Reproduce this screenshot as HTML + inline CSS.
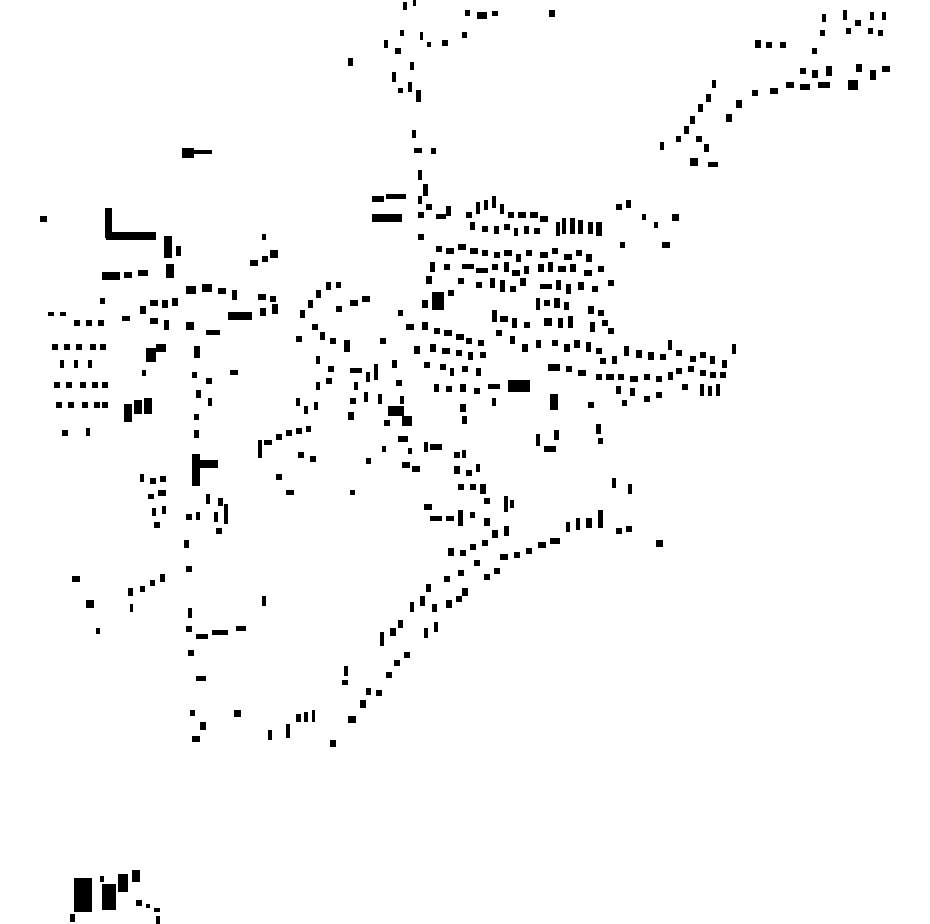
<!DOCTYPE html>
<html><head><meta charset="utf-8"><style>html,body{margin:0;padding:0;background:#fff}svg{display:block}</style></head>
<body>
<svg width="930" height="924" viewBox="0 0 930 924" xmlns="http://www.w3.org/2000/svg">
<g fill="#000">
<!-- top north road -->
<rect x="403" y="2" width="4" height="8"/><rect x="413" y="0" width="3" height="6"/><rect x="465" y="10" width="5" height="6"/><rect x="477" y="12" width="10" height="7"/><rect x="492" y="11" width="6" height="5"/><rect x="549" y="10" width="6" height="7"/>
<rect x="384" y="40" width="4" height="8"/><rect x="395" y="48" width="6" height="6"/><rect x="400" y="30" width="4" height="6"/><rect x="420" y="32" width="3" height="8"/><rect x="427" y="42" width="4" height="5"/><rect x="442" y="40" width="6" height="6"/><rect x="462" y="32" width="5" height="6"/>
<rect x="348" y="58" width="5" height="8"/><rect x="410" y="62" width="4" height="8"/><rect x="392" y="72" width="4" height="10"/><rect x="398" y="88" width="5" height="5"/><rect x="408" y="82" width="4" height="10"/><rect x="416" y="90" width="5" height="12"/>
<rect x="412" y="130" width="4" height="8"/><rect x="414" y="148" width="8" height="5"/><rect x="431" y="148" width="5" height="6"/><rect x="418" y="170" width="4" height="10"/><rect x="423" y="184" width="5" height="12"/>
<rect x="182" y="148" width="12" height="10"/><rect x="194" y="150" width="18" height="4"/>
<!-- NE branch -->
<rect x="755" y="40" width="6" height="8"/><rect x="766" y="42" width="6" height="6"/><rect x="780" y="42" width="6" height="6"/><rect x="822" y="14" width="4" height="8"/><rect x="843" y="10" width="4" height="10"/><rect x="855" y="20" width="6" height="6"/><rect x="870" y="12" width="4" height="8"/><rect x="882" y="12" width="4" height="8"/><rect x="820" y="30" width="5" height="6"/><rect x="846" y="28" width="5" height="6"/><rect x="868" y="28" width="5" height="6"/><rect x="878" y="30" width="5" height="6"/>
<rect x="812" y="48" width="5" height="6"/><rect x="800" y="68" width="6" height="6"/><rect x="812" y="70" width="6" height="8"/><rect x="826" y="66" width="6" height="10"/><rect x="856" y="64" width="6" height="8"/><rect x="870" y="70" width="6" height="10"/><rect x="882" y="66" width="8" height="6"/><rect x="848" y="80" width="10" height="10"/><rect x="786" y="82" width="8" height="6"/><rect x="800" y="84" width="10" height="6"/><rect x="818" y="82" width="12" height="6"/><rect x="770" y="88" width="8" height="6"/><rect x="752" y="90" width="6" height="6"/><rect x="736" y="100" width="6" height="8"/><rect x="726" y="114" width="6" height="8"/><rect x="712" y="80" width="4" height="8"/><rect x="706" y="94" width="5" height="8"/><rect x="698" y="104" width="5" height="8"/><rect x="690" y="116" width="5" height="8"/><rect x="684" y="126" width="5" height="8"/><rect x="676" y="136" width="5" height="6"/><rect x="660" y="142" width="4" height="8"/><rect x="696" y="136" width="6" height="6"/><rect x="704" y="144" width="5" height="8"/><rect x="690" y="158" width="8" height="8"/><rect x="708" y="162" width="10" height="5"/>
<!-- NW industrial -->
<rect x="40" y="216" width="7" height="6"/><rect x="105" y="208" width="7" height="30"/><rect x="106" y="232" width="50" height="8"/><rect x="164" y="236" width="8" height="22"/><rect x="176" y="246" width="5" height="10"/><rect x="102" y="272" width="18" height="8"/><rect x="124" y="272" width="8" height="6"/><rect x="138" y="270" width="10" height="6"/><rect x="166" y="264" width="8" height="14"/><rect x="250" y="260" width="8" height="6"/><rect x="262" y="256" width="6" height="6"/><rect x="270" y="250" width="8" height="8"/><rect x="262" y="234" width="4" height="6"/>
<rect x="186" y="286" width="10" height="8"/><rect x="202" y="284" width="10" height="8"/><rect x="218" y="288" width="8" height="6"/><rect x="232" y="290" width="5" height="10"/><rect x="228" y="312" width="24" height="8"/><rect x="258" y="294" width="8" height="6"/><rect x="270" y="296" width="6" height="6"/><rect x="260" y="308" width="6" height="8"/><rect x="272" y="304" width="6" height="10"/>
<rect x="100" y="298" width="5" height="6"/><rect x="140" y="306" width="6" height="8"/><rect x="150" y="300" width="8" height="6"/><rect x="162" y="300" width="6" height="8"/><rect x="172" y="298" width="6" height="8"/><rect x="122" y="316" width="8" height="5"/><rect x="150" y="318" width="8" height="6"/><rect x="164" y="320" width="5" height="10"/><rect x="186" y="322" width="8" height="8"/><rect x="206" y="330" width="14" height="5"/>
<!-- west grid -->
<rect x="48" y="312" width="6" height="4"/><rect x="60" y="312" width="6" height="4"/><rect x="74" y="320" width="6" height="6"/><rect x="86" y="320" width="6" height="6"/><rect x="98" y="320" width="6" height="6"/><rect x="52" y="344" width="6" height="6"/><rect x="64" y="344" width="6" height="6"/><rect x="76" y="344" width="6" height="6"/><rect x="90" y="344" width="6" height="6"/><rect x="100" y="344" width="6" height="6"/><rect x="60" y="360" width="4" height="8"/><rect x="74" y="360" width="4" height="8"/><rect x="88" y="360" width="4" height="8"/><rect x="54" y="382" width="6" height="6"/><rect x="66" y="382" width="6" height="6"/><rect x="80" y="382" width="6" height="6"/><rect x="92" y="382" width="6" height="6"/><rect x="102" y="382" width="6" height="6"/><rect x="56" y="402" width="6" height="6"/><rect x="68" y="402" width="6" height="6"/><rect x="82" y="402" width="6" height="6"/><rect x="94" y="402" width="6" height="6"/><rect x="102" y="402" width="6" height="6"/><rect x="62" y="430" width="6" height="6"/><rect x="86" y="428" width="4" height="8"/>
<rect x="146" y="348" width="10" height="14"/><rect x="156" y="344" width="10" height="8"/><rect x="124" y="404" width="8" height="18"/><rect x="134" y="400" width="8" height="14"/><rect x="144" y="398" width="8" height="16"/><rect x="142" y="370" width="4" height="6"/>
<!-- vertical road W -->
<rect x="194" y="346" width="6" height="12"/><rect x="192" y="372" width="5" height="6"/><rect x="196" y="390" width="5" height="8"/><rect x="194" y="414" width="5" height="6"/><rect x="194" y="430" width="5" height="8"/><rect x="192" y="454" width="8" height="32"/><rect x="200" y="460" width="18" height="8"/><rect x="206" y="378" width="6" height="6"/><rect x="208" y="398" width="4" height="8"/><rect x="230" y="370" width="8" height="5"/>
<rect x="140" y="474" width="4" height="8"/><rect x="150" y="478" width="6" height="6"/><rect x="160" y="476" width="6" height="6"/><rect x="148" y="494" width="6" height="5"/><rect x="158" y="490" width="8" height="6"/><rect x="152" y="508" width="4" height="8"/><rect x="162" y="506" width="4" height="8"/><rect x="154" y="522" width="6" height="6"/><rect x="186" y="514" width="6" height="6"/><rect x="196" y="512" width="4" height="8"/><rect x="206" y="494" width="4" height="10"/><rect x="218" y="498" width="5" height="8"/><rect x="214" y="512" width="4" height="10"/><rect x="224" y="504" width="4" height="20"/><rect x="216" y="528" width="6" height="6"/>
<rect x="184" y="540" width="5" height="8"/><rect x="186" y="566" width="6" height="6"/><rect x="72" y="576" width="8" height="6"/><rect x="86" y="600" width="8" height="8"/><rect x="96" y="628" width="4" height="6"/><rect x="128" y="588" width="5" height="8"/><rect x="140" y="586" width="5" height="6"/><rect x="150" y="580" width="5" height="6"/><rect x="160" y="574" width="5" height="8"/><rect x="130" y="604" width="3" height="8"/>
<rect x="188" y="608" width="4" height="10"/><rect x="186" y="626" width="6" height="6"/><rect x="196" y="634" width="12" height="5"/><rect x="212" y="630" width="16" height="5"/><rect x="236" y="626" width="10" height="5"/><rect x="262" y="596" width="4" height="10"/><rect x="188" y="650" width="6" height="6"/><rect x="196" y="676" width="10" height="5"/><rect x="190" y="710" width="5" height="6"/><rect x="200" y="722" width="6" height="8"/><rect x="234" y="710" width="7" height="7"/><rect x="192" y="736" width="8" height="6"/>
<!-- south road -->
<rect x="268" y="730" width="4" height="10"/><rect x="286" y="724" width="4" height="14"/><rect x="296" y="714" width="5" height="8"/><rect x="304" y="712" width="4" height="10"/><rect x="312" y="710" width="3" height="12"/><rect x="330" y="740" width="6" height="7"/><rect x="348" y="716" width="8" height="7"/><rect x="360" y="700" width="6" height="8"/><rect x="366" y="688" width="5" height="7"/><rect x="376" y="690" width="6" height="6"/><rect x="344" y="666" width="4" height="10"/><rect x="342" y="680" width="6" height="5"/><rect x="386" y="672" width="6" height="6"/><rect x="394" y="660" width="6" height="6"/><rect x="404" y="652" width="6" height="6"/><rect x="380" y="632" width="4" height="14"/><rect x="390" y="628" width="6" height="8"/><rect x="398" y="620" width="5" height="8"/><rect x="410" y="602" width="4" height="10"/><rect x="420" y="596" width="5" height="10"/><rect x="426" y="584" width="5" height="8"/><rect x="432" y="604" width="5" height="8"/><rect x="424" y="628" width="4" height="10"/><rect x="434" y="622" width="4" height="10"/><rect x="446" y="600" width="6" height="8"/><rect x="456" y="596" width="6" height="6"/><rect x="462" y="588" width="6" height="8"/><rect x="444" y="576" width="6" height="6"/><rect x="458" y="570" width="6" height="6"/><rect x="474" y="560" width="6" height="6"/><rect x="484" y="574" width="6" height="6"/><rect x="494" y="568" width="6" height="6"/><rect x="448" y="548" width="6" height="8"/><rect x="460" y="550" width="6" height="6"/><rect x="470" y="544" width="6" height="6"/><rect x="482" y="540" width="6" height="6"/><rect x="492" y="530" width="6" height="8"/><rect x="504" y="526" width="5" height="10"/><rect x="500" y="554" width="8" height="6"/><rect x="514" y="552" width="6" height="6"/><rect x="526" y="548" width="6" height="6"/><rect x="538" y="542" width="8" height="6"/><rect x="550" y="538" width="10" height="6"/><rect x="566" y="522" width="4" height="10"/><rect x="576" y="518" width="4" height="12"/><rect x="586" y="518" width="6" height="10"/><rect x="598" y="510" width="5" height="18"/><rect x="616" y="528" width="6" height="6"/><rect x="626" y="526" width="6" height="6"/><rect x="656" y="540" width="7" height="7"/><rect x="612" y="478" width="4" height="10"/><rect x="628" y="484" width="4" height="10"/>
<!-- central SE cluster -->
<rect x="424" y="504" width="8" height="6"/><rect x="430" y="516" width="12" height="5"/><rect x="446" y="516" width="8" height="5"/><rect x="458" y="510" width="5" height="16"/><rect x="470" y="512" width="5" height="6"/><rect x="484" y="518" width="6" height="8"/><rect x="504" y="496" width="4" height="16"/><rect x="510" y="500" width="4" height="8"/><rect x="484" y="498" width="6" height="6"/><rect x="454" y="452" width="6" height="6"/><rect x="462" y="450" width="4" height="8"/><rect x="454" y="466" width="6" height="8"/><rect x="466" y="470" width="6" height="6"/><rect x="476" y="464" width="4" height="8"/><rect x="458" y="484" width="6" height="6"/><rect x="470" y="484" width="6" height="6"/><rect x="480" y="484" width="6" height="10"/>
<rect x="402" y="462" width="8" height="6"/><rect x="412" y="466" width="8" height="6"/><rect x="424" y="442" width="4" height="10"/><rect x="430" y="444" width="12" height="6"/><rect x="408" y="448" width="4" height="6"/><rect x="398" y="436" width="10" height="6"/><rect x="382" y="446" width="4" height="6"/><rect x="366" y="458" width="5" height="6"/><rect x="350" y="490" width="5" height="5"/>
<!-- mid-west houses -->
<rect x="258" y="440" width="4" height="18"/><rect x="264" y="440" width="8" height="5"/><rect x="276" y="434" width="6" height="6"/><rect x="286" y="430" width="6" height="6"/><rect x="296" y="428" width="6" height="6"/><rect x="306" y="426" width="5" height="6"/><rect x="298" y="452" width="6" height="6"/><rect x="310" y="456" width="6" height="6"/><rect x="276" y="474" width="6" height="6"/><rect x="286" y="490" width="8" height="5"/><rect x="296" y="398" width="4" height="8"/><rect x="304" y="406" width="4" height="8"/><rect x="314" y="402" width="4" height="8"/>
<rect x="300" y="310" width="5" height="8"/><rect x="308" y="300" width="5" height="8"/><rect x="316" y="290" width="5" height="8"/><rect x="326" y="282" width="5" height="8"/><rect x="336" y="282" width="5" height="6"/><rect x="296" y="336" width="6" height="6"/><rect x="312" y="324" width="6" height="6"/><rect x="320" y="332" width="5" height="8"/><rect x="330" y="338" width="6" height="6"/><rect x="344" y="340" width="6" height="12"/><rect x="336" y="306" width="6" height="6"/><rect x="350" y="300" width="8" height="6"/><rect x="362" y="296" width="8" height="6"/><rect x="316" y="356" width="4" height="8"/><rect x="328" y="366" width="6" height="6"/><rect x="326" y="378" width="6" height="6"/><rect x="316" y="382" width="4" height="8"/><rect x="350" y="368" width="12" height="5"/><rect x="354" y="382" width="4" height="8"/><rect x="350" y="398" width="6" height="6"/><rect x="348" y="412" width="6" height="8"/><rect x="366" y="372" width="4" height="10"/><rect x="374" y="364" width="4" height="16"/><rect x="364" y="392" width="4" height="10"/><rect x="378" y="394" width="4" height="10"/><rect x="380" y="338" width="6" height="6"/><rect x="392" y="360" width="5" height="8"/><rect x="396" y="380" width="6" height="6"/><rect x="388" y="406" width="16" height="10"/><rect x="402" y="416" width="10" height="10"/><rect x="384" y="420" width="6" height="6"/><rect x="400" y="396" width="4" height="8"/>
<!-- central core -->
<rect x="372" y="196" width="12" height="6"/><rect x="386" y="194" width="20" height="5"/><rect x="372" y="214" width="30" height="8"/><rect x="418" y="196" width="4" height="8"/><rect x="418" y="212" width="6" height="6"/><rect x="426" y="204" width="6" height="6"/><rect x="436" y="214" width="10" height="5"/><rect x="446" y="206" width="5" height="10"/><rect x="418" y="234" width="6" height="6"/><rect x="466" y="212" width="6" height="6"/><rect x="476" y="202" width="4" height="12"/><rect x="484" y="200" width="4" height="10"/><rect x="492" y="196" width="4" height="12"/><rect x="500" y="204" width="4" height="10"/><rect x="508" y="212" width="6" height="6"/><rect x="518" y="212" width="8" height="6"/><rect x="530" y="212" width="8" height="6"/><rect x="540" y="216" width="8" height="6"/><rect x="470" y="222" width="5" height="8"/><rect x="482" y="226" width="6" height="6"/><rect x="494" y="226" width="5" height="8"/><rect x="504" y="224" width="6" height="6"/><rect x="514" y="228" width="4" height="8"/><rect x="524" y="226" width="5" height="8"/><rect x="534" y="228" width="6" height="6"/><rect x="556" y="222" width="4" height="14"/><rect x="562" y="218" width="4" height="16"/><rect x="570" y="218" width="5" height="16"/><rect x="578" y="220" width="5" height="14"/><rect x="588" y="222" width="5" height="12"/><rect x="596" y="222" width="6" height="14"/><rect x="616" y="204" width="6" height="6"/><rect x="626" y="200" width="5" height="8"/><rect x="642" y="214" width="4" height="6"/><rect x="654" y="222" width="4" height="6"/><rect x="672" y="214" width="7" height="7"/><rect x="662" y="242" width="8" height="6"/><rect x="620" y="242" width="5" height="6"/>
<rect x="436" y="246" width="6" height="6"/><rect x="446" y="248" width="8" height="6"/><rect x="458" y="244" width="8" height="6"/><rect x="470" y="248" width="8" height="6"/><rect x="482" y="250" width="6" height="6"/><rect x="494" y="252" width="6" height="6"/><rect x="504" y="250" width="8" height="6"/><rect x="516" y="254" width="5" height="8"/><rect x="526" y="250" width="6" height="6"/><rect x="540" y="252" width="8" height="6"/><rect x="552" y="248" width="6" height="6"/><rect x="564" y="254" width="8" height="6"/><rect x="576" y="250" width="6" height="6"/><rect x="586" y="254" width="6" height="8"/><rect x="430" y="262" width="5" height="10"/><rect x="444" y="264" width="6" height="6"/><rect x="462" y="264" width="12" height="5"/><rect x="476" y="268" width="12" height="5"/><rect x="492" y="264" width="6" height="6"/><rect x="504" y="262" width="5" height="10"/><rect x="512" y="270" width="8" height="6"/><rect x="524" y="266" width="5" height="8"/><rect x="538" y="264" width="6" height="8"/><rect x="548" y="262" width="5" height="10"/><rect x="558" y="266" width="8" height="6"/><rect x="570" y="264" width="6" height="8"/><rect x="584" y="270" width="8" height="6"/><rect x="598" y="266" width="6" height="6"/><rect x="608" y="280" width="6" height="6"/>
<rect x="426" y="276" width="6" height="8"/><rect x="458" y="278" width="6" height="6"/><rect x="476" y="282" width="6" height="6"/><rect x="490" y="278" width="5" height="10"/><rect x="500" y="280" width="5" height="12"/><rect x="510" y="286" width="6" height="6"/><rect x="520" y="278" width="6" height="8"/><rect x="540" y="284" width="12" height="5"/><rect x="556" y="280" width="5" height="10"/><rect x="566" y="284" width="5" height="10"/><rect x="578" y="282" width="6" height="8"/><rect x="592" y="286" width="6" height="6"/>
<rect x="432" y="292" width="12" height="18"/><rect x="422" y="300" width="6" height="8"/><rect x="448" y="290" width="6" height="6"/><rect x="398" y="310" width="5" height="6"/><rect x="406" y="324" width="8" height="6"/><rect x="422" y="322" width="6" height="8"/><rect x="434" y="328" width="6" height="6"/><rect x="444" y="330" width="8" height="6"/><rect x="456" y="334" width="8" height="6"/><rect x="466" y="338" width="6" height="6"/><rect x="478" y="340" width="6" height="6"/><rect x="492" y="310" width="5" height="12"/><rect x="500" y="316" width="8" height="6"/><rect x="512" y="318" width="5" height="10"/><rect x="496" y="330" width="6" height="6"/><rect x="510" y="336" width="5" height="8"/><rect x="524" y="322" width="6" height="6"/><rect x="536" y="298" width="4" height="12"/><rect x="544" y="300" width="6" height="6"/><rect x="554" y="298" width="6" height="10"/><rect x="564" y="302" width="5" height="8"/><rect x="544" y="318" width="8" height="8"/><rect x="558" y="318" width="5" height="10"/><rect x="568" y="316" width="5" height="12"/><rect x="588" y="306" width="6" height="8"/><rect x="598" y="310" width="6" height="6"/><rect x="590" y="322" width="5" height="10"/><rect x="602" y="320" width="6" height="6"/><rect x="608" y="328" width="6" height="6"/>
<rect x="414" y="346" width="6" height="8"/><rect x="430" y="344" width="6" height="8"/><rect x="442" y="348" width="8" height="6"/><rect x="456" y="350" width="6" height="6"/><rect x="468" y="352" width="5" height="8"/><rect x="480" y="352" width="6" height="6"/><rect x="424" y="362" width="6" height="6"/><rect x="440" y="364" width="6" height="6"/><rect x="450" y="368" width="4" height="8"/><rect x="462" y="366" width="6" height="6"/><rect x="476" y="368" width="5" height="8"/><rect x="522" y="344" width="6" height="8"/><rect x="536" y="340" width="5" height="8"/><rect x="552" y="340" width="6" height="6"/><rect x="564" y="344" width="6" height="8"/><rect x="574" y="340" width="6" height="8"/><rect x="586" y="342" width="5" height="10"/><rect x="596" y="348" width="6" height="6"/>
<rect x="434" y="384" width="5" height="8"/><rect x="446" y="386" width="6" height="6"/><rect x="460" y="384" width="6" height="8"/><rect x="474" y="388" width="6" height="6"/><rect x="488" y="384" width="12" height="5"/><rect x="508" y="380" width="22" height="12"/><rect x="548" y="364" width="12" height="7"/><rect x="566" y="366" width="6" height="6"/><rect x="578" y="370" width="8" height="6"/><rect x="460" y="404" width="6" height="8"/><rect x="462" y="416" width="5" height="8"/><rect x="492" y="398" width="4" height="8"/><rect x="550" y="394" width="8" height="16"/><rect x="536" y="434" width="4" height="12"/><rect x="544" y="446" width="12" height="6"/><rect x="554" y="430" width="5" height="10"/><rect x="588" y="402" width="6" height="6"/><rect x="596" y="424" width="5" height="10"/><rect x="598" y="438" width="5" height="6"/>
<!-- east road -->
<rect x="600" y="358" width="6" height="6"/><rect x="612" y="356" width="5" height="8"/><rect x="624" y="346" width="5" height="10"/><rect x="636" y="350" width="6" height="8"/><rect x="648" y="352" width="6" height="8"/><rect x="660" y="354" width="6" height="6"/><rect x="668" y="340" width="4" height="10"/><rect x="676" y="350" width="6" height="6"/><rect x="690" y="356" width="6" height="6"/><rect x="700" y="352" width="6" height="6"/><rect x="710" y="356" width="5" height="8"/><rect x="722" y="360" width="5" height="8"/><rect x="732" y="344" width="4" height="10"/><rect x="596" y="374" width="6" height="6"/><rect x="606" y="374" width="8" height="6"/><rect x="618" y="374" width="6" height="6"/><rect x="630" y="376" width="8" height="6"/><rect x="644" y="374" width="6" height="6"/><rect x="656" y="376" width="6" height="6"/><rect x="668" y="372" width="5" height="8"/><rect x="676" y="368" width="6" height="6"/><rect x="688" y="366" width="6" height="6"/><rect x="700" y="370" width="6" height="6"/><rect x="710" y="372" width="6" height="6"/><rect x="720" y="372" width="6" height="6"/><rect x="616" y="386" width="5" height="8"/><rect x="630" y="388" width="5" height="8"/><rect x="644" y="396" width="6" height="6"/><rect x="656" y="392" width="6" height="6"/><rect x="682" y="384" width="6" height="6"/><rect x="700" y="384" width="4" height="12"/><rect x="708" y="386" width="4" height="10"/><rect x="716" y="384" width="4" height="12"/><rect x="622" y="400" width="5" height="6"/>
<!-- bottom-left isolated -->
<rect x="74" y="878" width="18" height="34"/><rect x="102" y="884" width="14" height="26"/><rect x="118" y="874" width="10" height="18"/><rect x="132" y="870" width="8" height="12"/><rect x="100" y="876" width="4" height="6"/><rect x="136" y="900" width="6" height="6"/><rect x="146" y="904" width="4" height="4"/><rect x="154" y="908" width="6" height="4"/><rect x="156" y="916" width="4" height="8"/><rect x="70" y="914" width="5" height="8"/>
</g>
</svg>
</body></html>
